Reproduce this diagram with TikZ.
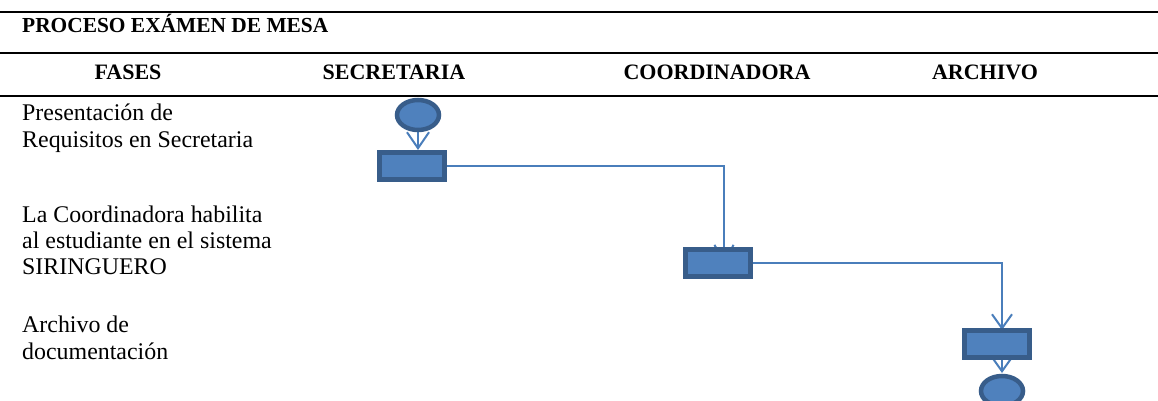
\documentclass[tikz,border=0pt]{standalone}
\usepackage{fontspec}
\setmainfont{Liberation Serif}
\usetikzlibrary{arrows.meta,backgrounds,shapes.geometric}
\definecolor{boxfill}{HTML}{4F81BD}
\definecolor{boxline}{HTML}{385D8A}
\definecolor{connline}{HTML}{4A7EBB}
\begin{document}
\begin{tikzpicture}[x=1pt,y=-1pt,
  rule/.style={line width=2.4pt,black},
  hdr/.style={font=\fontsize{22}{26}\selectfont\bfseries, anchor=base, inner sep=0},
  ttl/.style={font=\fontsize{21.4}{26}\selectfont\bfseries, anchor=base west, inner sep=0},
  phase/.style={font=\fontsize{23.9}{26}\selectfont, anchor=base west, inner sep=0},
  actbox/.style={draw=boxline, fill=boxfill, line width=5pt, minimum width=65pt, minimum height=27pt, inner sep=0, outer sep=0},
  term/.style={ellipse, draw=boxline, fill=boxfill, line width=4.5pt, minimum width=42pt, minimum height=30pt, inner sep=0, outer sep=0},
  flow/.style={draw=connline, line width=2pt, -{Straight Barb[length=14pt,width=20pt]}}
]
\useasboundingbox (0,0) rectangle (1158,401);
% rules
\coordinate (l1a) at (0,12);   \coordinate (l1b) at (1158,12);
\coordinate (l2a) at (0,53);   \coordinate (l2b) at (1158,53);
\coordinate (l3a) at (0,96);   \coordinate (l3b) at (1158,96);
\draw[rule] (l1a) -- (l1b);
\draw[rule] (l2a) -- (l2b);
\draw[rule] (l3a) -- (l3b);
% title and headers
\node[ttl] (title) at (22,33) {PROCESO EXÁMEN DE MESA};
\node[hdr] (hfases) at (128,80) {FASES};
\node[hdr] (hsec) at (394,80) {SECRETARIA};
\node[hdr] (hcoord) at (717,80) {COORDINADORA};
\node[hdr] (harch) at (985,80) {ARCHIVO};
% phases
\node[phase] (p1a) at (22,121) {Presentación de};
\node[phase] (p1b) at (22,147) {Requisitos en Secretaria};
\node[phase] (p2a) at (22,222) {La Coordinadora habilita};
\node[phase] (p2b) at (22,248) {al estudiante en el sistema};
\node[phase] (p2c) at (22,274) {SIRINGUERO};
\node[phase] (p3a) at (22,332) {Archivo de};
\node[phase] (p3b) at (22,359) {documentación};
% shapes
\node[term] (start) at (418,115) {};
\node[actbox] (r1) at (412,166) {};
\node[actbox] (r2) at (718,263) {};
\node[actbox] (r3) at (997,344) {};
\node[term] (stop) at (1002,391) {};
\coordinate (k1) at (418,150);
\coordinate (k2) at (724,265);
\coordinate (k3) at (1002,330);
\coordinate (k4) at (1002,373);
\coordinate (s4) at (1002,359);
\begin{scope}[on background layer]
\draw[flow,-{Straight Barb[length=16pt,width=22pt]}] (start.south) -- (k1);
\draw[flow,-{Straight Barb[length=18pt,width=19pt]}] (r1.east) -| (k2);
\draw[flow] (r2.east) -| (k3);
\draw[flow] (s4) -- (k4);
\end{scope}
\end{tikzpicture}
\end{document}
